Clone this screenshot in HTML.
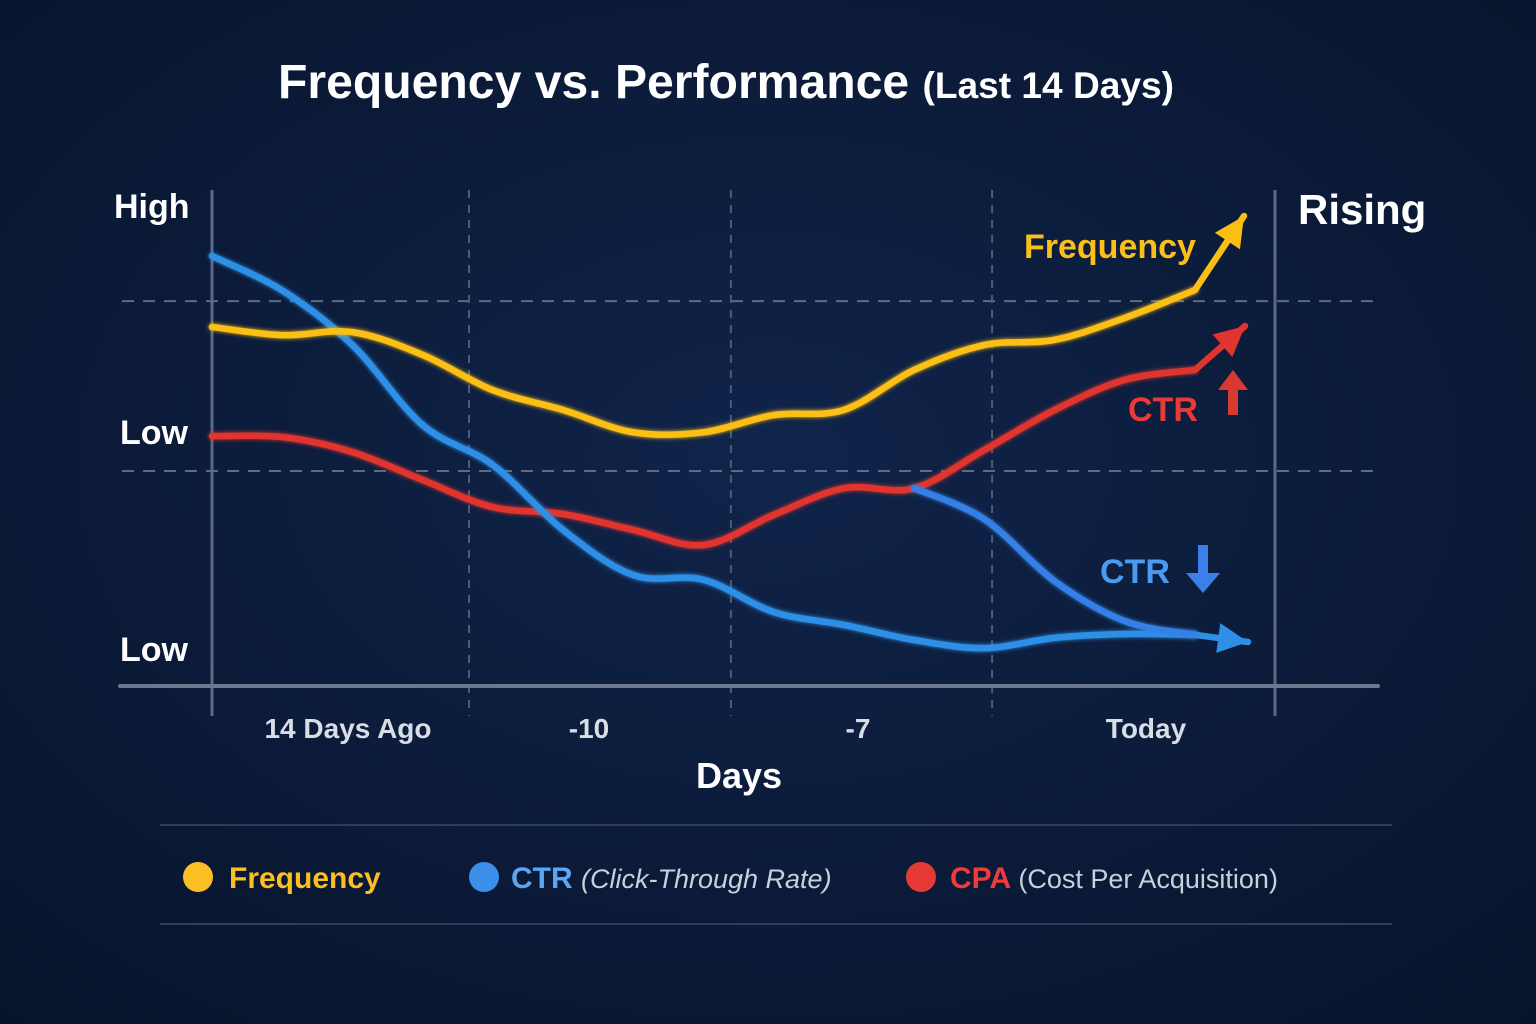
<!DOCTYPE html>
<html><head><meta charset="utf-8"><style>
html,body{margin:0;padding:0;width:1536px;height:1024px;overflow:hidden;background:#0b1a33;}
svg text{font-family:"Liberation Sans","DejaVu Sans",sans-serif;}
</style></head><body>
<svg id="chart" width="1536" height="1024" viewBox="0 0 1536 1024" xmlns="http://www.w3.org/2000/svg">
<defs>
<radialGradient id="bg" cx="50%" cy="45%" r="75%"><stop offset="0" stop-color="#10244a"/><stop offset="1" stop-color="#07132a"/></radialGradient>
<filter id="glow"><feGaussianBlur stdDeviation="2"/><feMerge><feMergeNode/><feMergeNode in="SourceGraphic"/></feMerge></filter>
</defs>
<rect width="1536" height="1024" fill="url(#bg)"/>
<text x="726" y="98" text-anchor="middle" fill="#fff" font-weight="bold" font-size="48" textLength="896" lengthAdjust="spacingAndGlyphs">Frequency vs. Performance <tspan font-size="37">(Last 14 Days)</tspan></text>
<g id="grid"></g>
<g id="series"></g>
<text x="114" y="218" fill="#fff" font-weight="bold" font-size="34">High</text>
<text x="120" y="444" fill="#fff" font-weight="bold" font-size="34">Low</text>
<text x="120" y="661" fill="#fff" font-weight="bold" font-size="34">Low</text>
<text x="1298" y="224" fill="#fff" font-weight="bold" font-size="42">Rising</text>
<text x="1024" y="258" fill="#fbbf1a" font-weight="bold" font-size="34">Frequency</text>
<text x="1128" y="421" fill="#ea3a36" font-weight="bold" font-size="34">CTR</text>
<path d="M1228 415 V390 H1218 L1233 370 L1248 390 H1238 V415 Z" fill="#d63a30"/>
<text x="1100" y="583" fill="#4a9af0" font-weight="bold" font-size="34">CTR</text>
<path d="M1198 545 V573 H1186 L1203 593 L1220 573 H1208 V545 Z" fill="#3d7fe8"/>
<text x="348" y="738" text-anchor="middle" fill="#d8dde6" font-weight="bold" font-size="28">14 Days Ago</text>
<text x="589" y="738" text-anchor="middle" fill="#d8dde6" font-weight="bold" font-size="28">-10</text>
<text x="858" y="738" text-anchor="middle" fill="#d8dde6" font-weight="bold" font-size="28">-7</text>
<text x="1146" y="738" text-anchor="middle" fill="#d8dde6" font-weight="bold" font-size="28">Today</text>
<text x="739" y="788" text-anchor="middle" fill="#fff" font-weight="bold" font-size="36">Days</text>
<line x1="160" y1="825" x2="1392" y2="825" stroke="#2e3d58" stroke-width="2"/>
<line x1="160" y1="924" x2="1392" y2="924" stroke="#2e3d58" stroke-width="2"/>
<g><circle cx="198" cy="877" r="15" fill="#fbbf24"/><text x="229" y="888" fill="#fbbf24" font-weight="bold" font-size="30">Frequency</text></g>
<g><circle cx="484" cy="877" r="15" fill="#3b8fe8"/><text x="511" y="888" fill="#5aa6f2" font-weight="bold" font-size="30">CTR <tspan fill="#c8d0dc" font-weight="normal" font-style="italic" font-size="27">(Click-Through Rate)</tspan></text></g>
<g><circle cx="921" cy="877" r="15" fill="#e53935"/><text x="950" y="888" fill="#ef3b3b" font-weight="bold" font-size="30">CPA <tspan fill="#c8d0dc" font-weight="normal" font-size="27">(Cost Per Acquisition)</tspan></text></g>
</svg>
<script>
const days = [0,1,2,3,4,5,6,7,8,9,10,11,12,13,14];
const frequency = [83.5,81.6,82.3,77,68.8,64.2,59,59,63,64.2,73.5,79.3,80.5,85.6,92.1];
const ctr = [100,92,79.3,60.7,51.4,36.3,25.8,24.7,17.2,14.2,10.7,8.8,11.2,12.1,11.9];
const cpa = [58.1,57.9,54.4,47.9,41.6,40,36.3,32.8,39.8,46,46,54.9,64.2,71.2,73.5];
const ctrTrendDays = [10,11,12,13,14];
const ctrTrend = [46,38.8,24.4,15.1,11.9];
const gridValues = [89.5,50];
const gridDays = [3.66,7.39,11.11];

const X0=212, X1=1195, Y0=686, YH=256;
const xs = d => X0 + d*(X1-X0)/14;
const ys = v => Y0 - v*(Y0-YH)/100;
const NS='http://www.w3.org/2000/svg';
const grid=document.getElementById('grid'), series=document.getElementById('series');
function mk(tag,attrs,parent){const e=document.createElementNS(NS,tag);for(const k in attrs)e.setAttribute(k,attrs[k]);parent.appendChild(e);return e;}

gridValues.forEach(v=>{
  const l=mk('line',{x1:122,x2:1378,y1:ys(v),y2:ys(v),stroke:'#5d6b85','stroke-width':2,'stroke-dasharray':'12 9'},grid);
  
  
});
gridDays.forEach(d=>{
  const l=mk('line',{x1:xs(d),x2:xs(d),y1:190,y2:716,stroke:'#4d5b75','stroke-width':2,'stroke-dasharray':'8 7'},grid);
  
  
});
const ya=mk('line',{x1:212,x2:212,y1:190,y2:716,stroke:'#5b6984','stroke-width':3},grid);


const ra=mk('line',{x1:1275,x2:1275,y1:190,y2:716,stroke:'#5b6984','stroke-width':3},grid);


const xa=mk('line',{x1:120,x2:1378,y1:686,y2:686,stroke:'#6b7890','stroke-width':4,'stroke-linecap':'round'},grid);



function pathFor(dd,vv){
  const p=dd.map((d,i)=>[xs(d),ys(vv[i])]);
  let s='M'+p[0][0]+' '+p[0][1];
  for(let i=0;i<p.length-1;i++){
    const a=p[i-1]||p[i],b=p[i],c=p[i+1],e=p[i+2]||c;
    const c1=[b[0]+(c[0]-a[0])/6,b[1]+(c[1]-a[1])/6],c2=[c[0]-(e[0]-b[0])/6,c[1]-(e[1]-b[1])/6];
    s+=` C${c1[0]} ${c1[1]} ${c2[0]} ${c2[1]} ${c[0]} ${c[1]}`;
  }
  return s;
}
function arrowHead(x,y,ang,color){
  const L=30,W=15,c=Math.cos(ang),s=Math.sin(ang);
  const pts=[[x,y],[x-L*c+W*s,y-L*s-W*c],[x-L*c-W*s,y-L*s+W*c]];
  return mk('polygon',{points:pts.map(p=>p.join(',')).join(' '),fill:color},series);
}
function drawSeries(dd,vv,color,name,tip){
  const p=mk('path',{d:pathFor(dd,vv),fill:'none',stroke:color,'stroke-width':6.5,'stroke-linecap':'round','stroke-linejoin':'round',filter:'url(#glow)'},series);
  
  
  if(tip){
    const lx=xs(dd[dd.length-1]),ly=ys(vv[vv.length-1]);
    const ext=mk('line',{x1:lx,y1:ly,x2:tip[0],y2:tip[1],stroke:color,'stroke-width':6.5,'stroke-linecap':'round'},series);
    
    
    const h=arrowHead(tip[0],tip[1],Math.atan2(tip[1]-ly,tip[0]-lx),color);
    
    
  }
}
drawSeries(days,cpa,'#e0342f','cpa-line',[1245,326]);
drawSeries(days,ctr,'#2e8fe6','ctr-line',[1248,642]);
drawSeries(ctrTrendDays,ctrTrend,'#3680e6','ctr-trend-line',null);
drawSeries(days,frequency,'#fbbf14','frequency-line',[1244,216]);
</script>
</body></html>
